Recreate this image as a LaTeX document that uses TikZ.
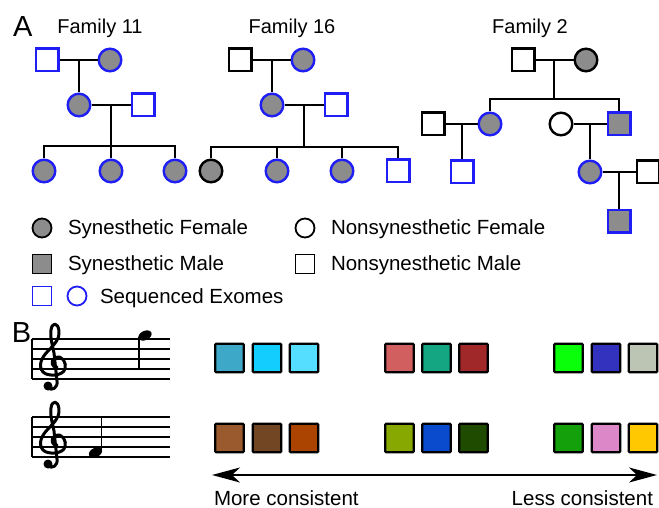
\documentclass[tikz,border=0pt]{standalone}
\usepackage{fontspec}
\setmainfont{Liberation Sans}
\usetikzlibrary{arrows.meta}
\definecolor{seqblue}{RGB}{30,30,245}
\definecolor{syngray}{RGB}{140,140,140}
\definecolor{ta}{RGB}{62,168,200}
\definecolor{tb}{RGB}{20,205,255}
\definecolor{tc}{RGB}{85,222,255}
\definecolor{td}{RGB}{210,95,95}
\definecolor{te}{RGB}{20,165,130}
\definecolor{tf}{RGB}{160,40,40}
\definecolor{tg}{RGB}{10,255,10}
\definecolor{th}{RGB}{50,50,190}
\definecolor{ti}{RGB}{188,196,180}
\definecolor{ba}{RGB}{155,90,45}
\definecolor{bb}{RGB}{115,70,35}
\definecolor{bc}{RGB}{170,68,0}
\definecolor{bd}{RGB}{135,168,0}
\definecolor{be}{RGB}{10,75,205}
\definecolor{bf}{RGB}{30,75,0}
\definecolor{bg}{RGB}{20,160,10}
\definecolor{bh}{RGB}{220,135,200}
\definecolor{bi}{RGB}{255,200,0}
% treble clef, origin at left end of top staff line
\newcommand{\gclefshape}{%
\path[draw,line width=3pt,line cap=round,line join=round]
  (19,28) .. controls (14,29) and (12,22) .. (17,19)
  .. controls (24,15) and (29,24) .. (27,30)
  .. controls (25,37) and (10,38) .. (5,33)
  .. controls (0,27) and (3,19) .. (10,12)
  .. controls (17,5) and (22,-1) .. (21,-8)
  .. controls (20,-17) and (14,-17) .. (13,-9)
  .. controls (12,-3) and (14,5) .. (16,14)
  -- (19,42)
  .. controls (20,49) and (14,52) .. (10,49);
\path[fill] (10,47) circle (4.5);
}

\begin{document}
\begin{tikzpicture}[x=1pt,y=-1pt,line width=2pt,
  female/.style={draw,circle,minimum size=22.6pt,inner sep=0pt,line width=2.4pt},
  male/.style={draw,rectangle,minimum size=22.6pt,inner sep=0pt,line width=2.4pt},
  syn/.style={fill=syngray},
  seq/.style={draw=seqblue},
  key/.style={minimum size=19pt,line width=1.8pt},
  title/.style={anchor=base,inner sep=0pt,font=\fontsize{20}{24}\selectfont},
  lbl/.style={anchor=base west,inner sep=0pt,font=\fontsize{20.5}{24}\selectfont},
  panel/.style={anchor=base west,inner sep=0pt,font=\fontsize{29}{32}\selectfont},
  chip/.style={draw,line width=2.4pt,rounded corners=1pt,minimum size=28.5pt,inner sep=0pt}]
\useasboundingbox (0,0) rectangle (659,508);
\node[panel] (A) at (12,37) {A};
% family 11
\begin{scope}
\node[male,seq] (1) at (47,60) {};
\node[female,seq,syn] (2) at (110,60) {};
\node[female,seq,syn] (3) at (79,105) {};
\node[male,seq] (4) at (143,105) {};
\node[female,seq,syn] (5) at (44,171) {};
\node[female,seq,syn] (6) at (111,171) {};
\node[female,seq,syn] (7) at (175,171) {};
\coordinate (m1) at (79,60);
\coordinate (m2) at (111,105);
\coordinate (s) at (111,146);
\path[draw] (1) -- (2);
\path[draw] (m1) -- (3);
\path[draw] (3) -- (4);
\path[draw] (m2) -- (6);
\path[draw] (5) |- (s) -| (7);
\node[title] (f11) at (100,34) {Family 11};
\end{scope}
% family 16
\begin{scope}
\node[male] (1) at (240,60) {};
\node[female,seq,syn] (2) at (303,60) {};
\node[female,seq,syn] (3) at (272,105) {};
\node[male,seq] (4) at (336,105) {};
\node[female,syn] (5) at (211,171) {};
\node[female,seq,syn] (6) at (277,171) {};
\node[female,seq,syn] (7) at (342,171) {};
\node[male,seq] (8) at (398,171) {};
\coordinate (m1) at (272,60);
\coordinate (m2) at (304,105);
\coordinate (s) at (304,147);
\path[draw] (1) -- (2);
\path[draw] (m1) -- (3);
\path[draw] (3) -- (4);
\path[draw] (m2) -- (s);
\path[draw] (5) |- (s) -| (8);
\path[draw] (6) |- (s);
\path[draw] (7) |- (s);
\node[title] (f16) at (292,34) {Family 16};
\end{scope}
% family 2
\begin{scope}
\node[male] (1) at (523,60) {};
\node[female,syn] (2) at (586,60) {};
\node[female,seq,syn] (3) at (490,124) {};
\node[male,seq,syn] (4) at (619,124) {};
\node[male] (5) at (433,124) {};
\node[male,seq] (6) at (462,172) {};
\node[female] (7) at (561,124) {};
\node[female,seq,syn] (8) at (590,172) {};
\node[male] (9) at (648,172) {};
\node[male,seq,syn] (10) at (619,221) {};
\coordinate (m1) at (554,60);
\coordinate (s) at (554,99);
\coordinate (m2) at (462,124);
\coordinate (m3) at (590,124);
\coordinate (m4) at (619,172);
\path[draw] (1) -- (2);
\path[draw] (m1) -- (s);
\path[draw] (3) |- (s) -| (4);
\path[draw] (5) -- (3);
\path[draw] (m2) -- (6);
\path[draw] (7) -- (4);
\path[draw] (m3) -- (8);
\path[draw] (8) -- (9);
\path[draw] (m4) -- (10);
\node[title] (f2) at (530,34) {Family 2};
\end{scope}
% legend
\node[female,key,syn] (k1) at (42,228) {};
\node[lbl] (l1) at (67,234) {Synesthetic Female};
\node[female,key] (k2) at (305,228) {};
\node[lbl] (l2) at (330,234) {Nonsynesthetic Female};
\node[male,key,syn] (k3) at (42,264) {};
\node[lbl] (l3) at (67,270) {Synesthetic Male};
\node[male,key] (k4) at (305,264) {};
\node[lbl] (l4) at (330,270) {Nonsynesthetic Male};
\node[male,key,seq] (k5) at (42,296) {};
\node[female,key,seq] (k6) at (77,296) {};
\node[lbl] (l5) at (99,303) {Sequenced Exomes};
% panel B, staves
\node[panel] (B) at (11,342) {B};
\foreach \y in {339,349,...,379} \path[draw,line width=1.6pt] (32,\y) -- (170,\y);
\path[draw,line width=1.6pt] (32,339) -- (32,379);
\begin{scope}[shift={(38,339)}]
\gclefshape
\end{scope}
\path[fill,rotate around={25:(145,335.5)}] (145,335.5) ellipse (7 and 4.6);
\path[draw,line width=1.6pt] (139,337) -- (139,370);
\foreach \y in {417,427,...,457} \path[draw,line width=1.6pt] (32,\y) -- (170,\y);
\path[draw,line width=1.6pt] (32,417) -- (32,457);
\begin{scope}[shift={(38,417)}]
\gclefshape
\end{scope}
\path[fill,rotate around={25:(95.5,452.5)}] (95.5,452.5) ellipse (7 and 4.6);
\path[draw,line width=1.6pt] (101.5,451) -- (101.5,418);
% colour chips
\node[chip,fill=ta] (t1) at (229.5,358) {};
\node[chip,fill=tb] (t2) at (267,358) {};
\node[chip,fill=tc] (t3) at (304,358) {};
\node[chip,fill=td] (t4) at (399.5,358) {};
\node[chip,fill=te] (t5) at (436.5,358) {};
\node[chip,fill=tf] (t6) at (473.5,358) {};
\node[chip,fill=tg] (t7) at (568.5,358) {};
\node[chip,fill=th] (t8) at (606,358) {};
\node[chip,fill=ti] (t9) at (643,358) {};
\node[chip,fill=ba] (b1) at (229.5,438) {};
\node[chip,fill=bb] (b2) at (267,438) {};
\node[chip,fill=bc] (b3) at (304,438) {};
\node[chip,fill=bd] (b4) at (399.5,438) {};
\node[chip,fill=be] (b5) at (436.5,438) {};
\node[chip,fill=bf] (b6) at (473.5,438) {};
\node[chip,fill=bg] (b7) at (568.5,438) {};
\node[chip,fill=bh] (b8) at (606,438) {};
\node[chip,fill=bi] (b9) at (643,438) {};
% consistency axis
\coordinate (more) at (212,475);
\coordinate (less) at (657,475);
\path[draw,line width=1.5pt,{Stealth[length=28pt,width=15pt,inset=8pt]}-{Stealth[length=28pt,width=15pt,inset=8pt]}] (more) -- (less);
\node[lbl] (mc) at (213,505) {More consistent};
\node[lbl,anchor=base east] (lc) at (654,505) {Less consistent};
\end{tikzpicture}
\end{document}
